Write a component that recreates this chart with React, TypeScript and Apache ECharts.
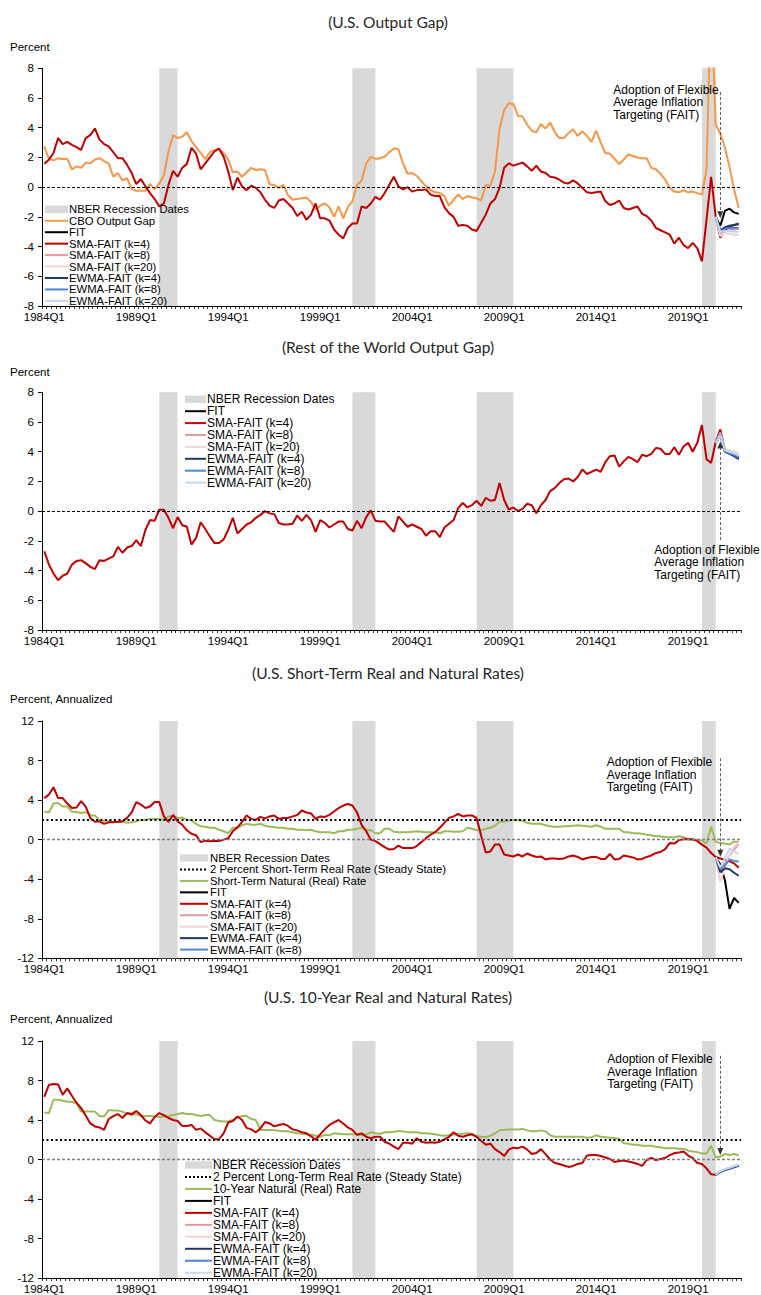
import React, { useEffect, useRef } from "react";
import * as echarts from "echarts";

// ---------------- categories ----------------
const FIRST_YEAR = 1984;
const LAST_YEAR = 2021;
const quarters: string[] = [];
for (let y = FIRST_YEAR; y <= LAST_YEAR; y++) for (let q = 1; q <= 4; q++) quarters.push(`${y}Q${q}`);

const recessionSpans: [string, string][] = [
  ["1990Q2", "1991Q2"],
  ["2000Q4", "2002Q1"],
  ["2007Q3", "2009Q3"],
  ["2019Q4", "2020Q3"],
];
const forecastStart = "2020Q3";
const faitAdoption = "2020Q4";
const steadyStateRate = 2;

const strategyNames = [
  "FIT",
  "SMA-FAIT (k=4)",
  "SMA-FAIT (k=8)",
  "SMA-FAIT (k=20)",
  "EWMA-FAIT (k=4)",
  "EWMA-FAIT (k=8)",
  "EWMA-FAIT (k=20)",
];

// ---------------- Panel 1: U.S. output gap ----------------
const usCboGap = [
  2.74, 1.9, 1.8, 1.95, 1.9, 1.9, 1.2, 1.4, 1.3, 1.65,
  1.6, 1.85, 1.95, 1.75, 1.6, 0.7, 0.95, 0.45, 0.6, -0.1,
  -0.25, -0.25, -0.25, 0.2, -0.15, 0.25, 0.8, 2.4, 3.5, 3.3,
  3.4, 3.7, 3.1, 2.7, 2.3, 1.9, 2.35, 2.5, 2.55, 2.3,
  1.85, 1.0, 1.05, 0.7, 1.0, 1.3, 1.15, 1.2, 1.15, 0.2,
  0.15, -0.05, 0.15, -0.55, -0.85, -0.8, -0.75, -0.7, -1.0, -1.5,
  -1.25, -1.1, -1.35, -2.0, -1.3, -2.1, -1.35, -0.95, 0.15, 0.45,
  1.6, 2.05, 1.9, 1.95, 2.05, 2.35, 2.6, 2.55, 1.6, 0.9,
  0.95, 0.75, 0.4, 0.05, -0.2, -0.35, -0.4, -0.6, -1.25, -0.85,
  -0.5, -0.8, -0.6, -0.7, -0.75, -0.9, 0.15, 0.1, 1.05, 3.95,
  5.2, 5.65, 5.6, 4.8, 4.75, 4.2, 3.8, 3.7, 4.25, 3.95,
  4.35, 3.7, 3.3, 3.3, 3.65, 3.9, 3.45, 3.75, 3.45, 3.05,
  3.8, 3.0, 2.3, 2.25, 1.9, 1.55, 1.85, 2.2, 2.1, 2.0,
  1.95, 1.95, 1.3, 1.2, 0.9, 0.5, -0.05, -0.3, -0.35, -0.2,
  -0.35, -0.3, -0.4, -0.5, 1.2, 13.0, 4.2, 3.6, 2.65, 1.35,
  -0.15, -1.4,
];
const usGapHistory = [
  1.57, 1.85, 2.3, 3.3, 2.9, 3.05, 2.85, 2.7, 2.5, 3.3,
  3.5, 3.95, 3.2, 2.9, 2.75, 2.35, 1.95, 1.95, 1.5, 0.95,
  0.2, 0.55, 0.05, -0.4, -0.8, -1.3, -1.1, 0.15, 1.1, 0.7,
  1.3, 1.55, 2.65, 2.25, 1.2, 1.6, 2.0, 2.4, 2.6, 2.05,
  1.05, -0.2, 0.65, 0.05, -0.2, 0.1, -0.05, -0.35, -0.85, -1.25,
  -1.4, -0.9, -0.8, -1.1, -1.4, -1.95, -1.65, -2.2, -1.85, -1.1,
  -2.1, -2.1, -2.25, -2.85, -3.2, -3.45, -2.75, -2.45, -2.45, -1.3,
  -1.4, -1.1, -0.65, -0.85, -0.4, 0.15, 0.7, 0.05, -0.15, 0,
  -0.3, -0.2, -0.2, -0.15, -0.5, -0.6, -0.6, -1.35, -1.75, -2.0,
  -2.6, -2.55, -2.6, -2.85, -2.95, -2.4, -1.85, -1.1, -0.8, -0.05,
  1.3, 1.6, 1.45, 1.55, 1.65, 1.4, 1.1, 1.45, 1.05, 0.95,
  0.7, 0.65, 0.5, 0.3, 0.25, 0.45, 0.25, -0.05, -0.35, -0.4,
  -0.35, -0.3, -0.95, -1.2, -1.1, -0.9, -1.4, -1.5, -1.4, -1.3,
  -1.8, -1.95, -2.25, -2.75, -2.9, -3.05, -3.2, -3.8, -3.4, -3.9,
  -4.1, -3.75, -4.1, -5.0, -2.2, 0.7,
];
const usGapFit = [-2.0, -2.6, -1.6, -1.45, -1.7, -1.8];
const usGapSma4 = [-2.0, -3.4, -2.9, -2.65, -2.55, -2.5];
const usGapSma8 = [-2.0, -3.2, -3.0, -2.9, -2.85, -2.8];
const usGapSma20 = [-2.0, -3.3, -3.1, -3.15, -3.2, -3.2];
const usGapEwma4 = [-2.0, -2.9, -2.7, -2.6, -2.55, -2.45];
const usGapEwma8 = [-2.0, -3.0, -2.8, -2.75, -2.75, -2.75];
const usGapEwma20 = [-2.0, -3.0, -2.95, -2.95, -3.0, -3.0];

// ---------------- Panel 2: rest of the world output gap ----------------
const rowGapHistory = [
  -2.7, -3.6, -4.2, -4.65, -4.35, -4.2, -3.6, -3.35, -3.3, -3.5,
  -3.75, -3.9, -3.3, -3.35, -3.2, -3.05, -2.4, -2.8, -2.45, -2.35,
  -1.95, -2.35, -1.25, -0.6, -0.65, 0.1, 0.1, -0.45, -1.15, -0.4,
  -0.95, -1.05, -2.25, -1.8, -0.75, -1.2, -1.7, -2.15, -2.15, -1.9,
  -1.25, -0.45, -1.5, -1.2, -0.9, -0.75, -0.45, -0.25, 0, -0.15,
  -0.2, -0.8, -0.9, -0.9, -0.85, -0.3, -0.65, -0.25, -0.6, -1.4,
  -0.6, -0.8, -1.1, -0.9, -0.7, -0.7, -1.2, -1.3, -0.65, -1.15,
  -0.4, 0.05, -0.65, -0.7, -0.7, -1.05, -1.4, -0.35, -0.7, -1.05,
  -0.9, -1.05, -1.2, -1.65, -1.35, -1.35, -1.75, -1.1, -0.85, -0.6,
  0.2, 0.55, 0.25, 0.4, 0.7, 0.35, 0.9, 0.7, 0.75, 1.9,
  0.75, 0.1, 0.25, 0, 0.15, 0.5, 0.4, -0.15, 0.4, 0.75,
  1.35, 1.55, 1.9, 2.15, 2.2, 2.0, 2.3, 2.8, 2.5, 2.65,
  2.8, 2.65, 3.3, 3.7, 3.75, 3.0, 3.35, 3.65, 3.5, 3.3,
  3.8, 3.7, 3.85, 4.25, 4.2, 3.85, 3.85, 4.3, 3.8, 4.35,
  4.6, 4.0, 4.6, 5.8, 3.5, 3.25,
];
const rowGapFit = [4.6, 5.1, 4.05, 3.9, 3.8, 3.6];
const rowGapSma4 = [4.65, 5.5, 4.1, 3.95, 3.85, 3.55];
const rowGapSma8 = [4.6, 5.3, 4.15, 4.0, 3.95, 3.75];
const rowGapSma20 = [4.6, 5.2, 4.2, 4.1, 4.05, 3.9];
const rowGapEwma4 = [4.6, 5.15, 4.0, 3.85, 3.7, 3.5];
const rowGapEwma8 = [4.6, 5.15, 4.05, 3.9, 3.8, 3.6];
const rowGapEwma20 = [4.6, 5.1, 4.1, 4.0, 3.9, 3.75];

// ---------------- Panel 3: U.S. short-term real and natural rates ----------------
const shortNatural = [
  2.85, 2.75, 3.65, 3.7, 3.35, 3.35, 2.85, 2.8, 2.7, 2.8,
  2.45, 2.45, 2.0, 1.9, 1.85, 1.8, 1.75, 1.8, 1.7, 1.75,
  1.85, 2.0, 2.0, 2.1, 2.1, 2.1, 2.0, 2.35, 2.4, 2.2,
  2.25, 2.0, 1.95, 1.6, 1.35, 1.3, 1.2, 1.2, 1.0, 0.85,
  0.65, 1.2, 1.2, 1.45, 1.6, 1.5, 1.5, 1.6, 1.4, 1.3,
  1.25, 1.2, 1.2, 1.1, 1.1, 1.0, 1.0, 0.95, 1.0, 0.85,
  0.75, 0.75, 0.75, 0.65, 0.85, 0.85, 1.0, 1.0, 1.1, 1.2,
  1.0, 0.95, 0.65, 0.65, 1.1, 1.1, 0.8, 0.75, 0.75, 0.75,
  0.8, 0.85, 0.8, 0.75, 0.75, 0.75, 0.65, 0.85, 0.85, 0.8,
  0.8, 0.85, 1.2, 1.1, 0.95, 0.95, 1.1, 1.2, 1.4, 1.8,
  1.8, 1.9, 2.0, 1.95, 1.9, 1.7, 1.6, 1.6, 1.6, 1.45,
  1.35, 1.3, 1.3, 1.35, 1.35, 1.4, 1.45, 1.4, 1.35, 1.3,
  1.45, 1.3, 1.1, 1.1, 1.1, 1.1, 0.75, 0.75, 0.65, 0.65,
  0.6, 0.5, 0.45, 0.35, 0.35, 0.25, 0.25, 0.25, 0.35, 0.25,
  0.05, -0.05, 0.0, -0.1, -0.4, 1.3, -0.2, -0.35, -0.4, -0.5,
  -0.2, -0.2,
];
const shortRealHistory = [
  4.2, 4.55, 5.3, 4.2, 4.2, 3.65, 3.2, 3.25, 3.9, 3.35,
  2.2, 1.8, 1.85, 1.6, 1.75, 1.75, 1.8, 1.85, 2.2, 2.75,
  3.8, 3.55, 3.2, 3.35, 3.8, 3.8, 2.35, 1.8, 2.5, 1.85,
  1.5, 0.95, 0.6, 0.45, -0.25, -0.1, -0.15, -0.1, -0.15, 0,
  0.15, 0.85, 1.25, 1.8, 2.45, 2.1, 2.0, 2.3, 2.15, 2.35,
  2.45, 2.1, 2.2, 2.2, 2.35, 2.5, 2.95, 2.75, 2.65, 2.1,
  2.35, 2.3, 2.5, 2.85, 3.2, 3.45, 3.6, 3.45, 2.75, 1.5,
  0.85, 0, -0.15, -0.45, -0.75, -1.0, -0.95, -0.6, -0.85, -0.85,
  -0.85, -0.65, -0.25, 0.15, 0.5, 0.75, 1.2, 1.7, 2.2, 2.35,
  2.6, 2.35, 2.45, 2.45, 2.2, 0.4, -1.3, -1.2, -0.5, -0.5,
  -1.5, -1.6, -1.7, -1.5, -1.7, -1.4, -1.6, -1.75, -1.7, -2.0,
  -1.9, -1.9, -1.95, -1.9, -1.7, -1.6, -1.75, -2.0, -1.85, -1.75,
  -1.75, -1.95, -1.95, -1.45, -2.0, -1.95, -1.6, -1.7, -1.8, -2.0,
  -1.95, -1.75, -1.6, -1.35, -1.25, -0.95, -0.35, -0.4, -0.05, 0.05,
  0.05, 0.05, -0.15, -0.5, -0.8, -1.35,
];
const shortFit = [-1.8, -2.5, -4.1, -7.0, -5.9, -6.4];
const shortSma4 = [-1.75, -1.9, -2.05, -2.2, -2.4, -2.85];
const shortSma8 = [-1.8, -3.1, -2.4, -1.6, -1.0, -0.4];
const shortSma20 = [-1.8, -4.3, -2.8, -1.5, -0.7, -0.3];
const shortEwma4 = [-1.8, -3.3, -2.9, -3.0, -3.35, -3.65];
const shortEwma8 = [-1.8, -2.9, -2.6, -2.0, -2.15, -2.2];
const shortEwma20 = [-1.8, -2.8, -1.9, -0.9, -1.2, -1.45];

// ---------------- Panel 4: U.S. 10-year real and natural rates ----------------
const longNatural = [
  4.75, 4.7, 6.05, 6.05, 5.95, 5.85, 5.85, 5.7, 4.85, 4.85,
  4.85, 4.85, 4.4, 4.35, 5.0, 4.95, 4.95, 4.85, 4.6, 4.5,
  4.6, 4.4, 4.4, 4.4, 4.35, 4.3, 4.35, 4.4, 4.5, 4.6,
  4.7, 4.6, 4.6, 4.5, 4.4, 4.5, 4.5, 4.0, 3.9, 3.85,
  3.85, 4.0, 4.25, 4.4, 4.4, 4.1, 4.0, 3.0, 3.0, 3.0,
  2.95, 2.9, 2.85, 2.85, 2.75, 2.65, 2.6, 2.55, 2.5, 2.4,
  2.3, 2.5, 2.45, 2.65, 2.6, 2.55, 2.55, 2.55, 2.55, 2.45,
  2.55, 2.75, 2.65, 2.6, 2.75, 2.75, 2.8, 2.85, 2.85, 2.75,
  2.75, 2.75, 2.65, 2.65, 2.6, 2.55, 2.45, 2.4, 2.45, 2.5,
  2.6, 2.6, 2.65, 2.6, 2.4, 2.3, 2.25, 2.4, 2.65, 2.95,
  3.0, 3.05, 3.05, 3.05, 3.1, 2.95, 2.85, 2.85, 2.95, 2.85,
  2.45, 2.3, 2.3, 2.3, 2.3, 2.3, 2.3, 2.3, 2.2, 2.25,
  2.45, 2.3, 2.25, 2.2, 2.15, 2.1, 1.65, 1.6, 1.5, 1.5,
  1.4, 1.4, 1.4, 1.3, 1.25, 1.15, 1.15, 1.15, 1.1, 1.1,
  0.9, 0.8, 0.75, 0.6, 0.6, 1.4, 0.2, 0.3, 0.55, 0.45,
  0.55, 0.4,
];
const longRealHistory = [
  6.35, 7.55, 7.65, 7.6, 6.55, 7.2, 6.45, 5.75, 5.2, 4.45,
  3.65, 3.35, 3.25, 3.0, 4.1, 4.4, 4.6, 4.2, 4.7, 4.6,
  4.9, 4.5, 3.95, 3.65, 4.3, 4.7, 4.5, 4.2, 4.0, 3.9,
  3.4, 3.4, 3.5, 3.0, 3.15, 2.75, 2.4, 2.05, 2.05, 2.65,
  3.75, 3.9, 4.35, 4.0, 3.2, 3.05, 2.75, 3.15, 3.8, 3.65,
  3.35, 3.5, 3.6, 3.4, 3.05, 2.95, 2.75, 2.65, 2.35, 2.0,
  2.55, 3.05, 3.5, 3.75, 4.0, 3.65, 3.25, 3.0, 2.5, 2.65,
  2.3, 2.15, 2.3, 2.3, 1.8, 1.6, 1.3, 1.05, 1.7, 1.7,
  1.6, 2.15, 1.8, 1.7, 1.75, 1.7, 1.8, 2.05, 2.3, 2.75,
  2.4, 2.3, 2.45, 2.55, 2.3, 1.9, 1.5, 1.6, 1.05, 0.75,
  0.35, 1.0, 1.2, 1.15, 1.3, 1.0, 0.55, 0.65, 1.05, 0.55,
  0, -0.35, -0.45, -0.6, -0.75, -0.65, -0.45, -0.35, 0.4, 0.45,
  0.45, 0.35, 0.2, 0.05, -0.25, -0.15, -0.1, -0.2, -0.3, -0.45,
  -0.65, -0.05, 0.15, -0.05, 0.05, 0.15, 0.45, 0.65, 0.7, 0.8,
  0.4, 0.15, -0.35, -0.45, -0.9, -1.5,
];
const longFit = [-1.55, -1.25, -1.05, -0.92, -0.75, -0.6];
const longSma4 = [-1.55, -1.24, -1.02, -0.9, -0.72, -0.58];
const longSma8 = [-1.55, -1.22, -1.0, -0.88, -0.7, -0.56];
const longSma20 = [-1.55, -1.2, -0.98, -0.86, -0.68, -0.54];
const longEwma4 = [-1.55, -1.28, -1.06, -0.95, -0.78, -0.62];
const longEwma8 = [-1.55, -1.24, -1.01, -0.9, -0.72, -0.58];
const longEwma20 = [-1.55, -1.18, -0.96, -0.84, -0.66, -0.52];

// ---------------- styling ----------------
const FONT = '"Liberation Sans", Arial, sans-serif';
const TITLE_FONT = 'Lato, "Open Sans", sans-serif';
const strategyColors = ["#000000", "#c00000", "#e39a9a", "#f3d3d3", "#1f3864", "#4a88d6", "#c3d8f0"];
const recessionColor = "#d9d9d9";

type Legend = { x: number; w: number; textX: number; y0: number; step: number; fontSize: number };
type Panel = {
  title: string;
  titleY: number;
  unit: string;
  unitY: number;
  top: number;
  height: number;
  min: number;
  max: number;
  interval: number;
  zeroColor: string;
  zeroWidth: number;
  main: { name: string; data: number[]; color: string } | null;
  steady: string | null;
  history: number[];
  forecasts: number[][];
  legend: Legend;
  legendStrategies: number;
  note: { x: number; y: number; from: number; to: number };
};

const panels: Panel[] = [
  {
    title: "(U.S. Output Gap)", titleY: 21.5, unit: "Percent", unitY: 47.3,
    top: 68.3, height: 237.7, min: -8, max: 8, interval: 2, zeroColor: "#000", zeroWidth: 1,
    main: { name: "CBO Output Gap", data: usCboGap, color: "#f79646" }, steady: null,
    history: usGapHistory,
    forecasts: [usGapFit, usGapSma4, usGapSma8, usGapSma20, usGapEwma4, usGapEwma8, usGapEwma20],
    legend: { x: 45, w: 23, textX: 69, y0: 209.3, step: 11.45, fontSize: 11.3 }, legendStrategies: 7,
    note: { x: 613.3, y: 90, from: 6.4, to: -1.86 },
  },
  {
    title: "(Rest of the World Output Gap)", titleY: 346.7, unit: "Percent", unitY: 371.7,
    top: 392.3, height: 237.7, min: -8, max: 8, interval: 2, zeroColor: "#000", zeroWidth: 1,
    main: null, steady: null,
    history: rowGapHistory,
    forecasts: [rowGapFit, rowGapSma4, rowGapSma8, rowGapSma20, rowGapEwma4, rowGapEwma8, rowGapEwma20],
    legend: { x: 185, w: 21, textX: 207, y0: 399.3, step: 11.9, fontSize: 12 }, legendStrategies: 7,
    note: { x: 654.3, y: 550, from: -1.94, to: 4.46 },
  },
  {
    title: "(U.S. Short-Term Real and Natural Rates)", titleY: 672.7, unit: "Percent, Annualized", unitY: 699.3,
    top: 721, height: 237.3, min: -12, max: 12, interval: 4, zeroColor: "#7f7f7f", zeroWidth: 1.3,
    main: { name: "Short-Term Natural (Real) Rate", data: shortNatural, color: "#9bbb59" },
    steady: "2 Percent Short-Term Real Rate (Steady State)",
    history: shortRealHistory,
    forecasts: [shortFit, shortSma4, shortSma8, shortSma20, shortEwma4, shortEwma8, shortEwma20],
    legend: { x: 180, w: 28, textX: 210, y0: 858, step: 11.45, fontSize: 11.3 }, legendStrategies: 6,
    note: { x: 606.7, y: 762.3, from: 8.23, to: -1.38 },
  },
  {
    title: "(U.S. 10-Year Real and Natural Rates)", titleY: 997.3, unit: "Percent, Annualized", unitY: 1019.3,
    top: 1041, height: 237.3, min: -12, max: 12, interval: 4, zeroColor: "#7f7f7f", zeroWidth: 1.3,
    main: { name: "10-Year Natural (Real) Rate", data: longNatural, color: "#9bbb59" },
    steady: "2 Percent Long-Term Real Rate (Steady State)",
    history: longRealHistory,
    forecasts: [longFit, longSma4, longSma8, longSma20, longEwma4, longEwma8, longEwma20],
    legend: { x: 185, w: 27, textX: 213, y0: 1165, step: 11.97, fontSize: 12 }, legendStrategies: 7,
    note: { x: 607.3, y: 1059.3, from: 10.5, to: 0.81 },
  },
];

const fStart = quarters.indexOf(forecastStart);
const forecastOnly = (f: number[]) => quarters.map((_, i) => (i < fStart ? null : f[i - fStart] ?? null));
const historyThen = (h: number[], f: number[]) =>
  quarters.map((_, i) => (i < h.length ? h[i] : f[i - fStart] ?? null));

function buildOption() {
  const grid: any[] = [];
  const xAxis: any[] = [];
  const yAxis: any[] = [];
  const series: any[] = [];
  const graphic: any[] = [];

  panels.forEach((p, k) => {
    grid.push({ left: 42, width: 699, top: p.top, height: p.height });
    xAxis.push({
      type: "category", gridIndex: k, data: quarters, boundaryGap: true,
      axisLine: { show: true, onZero: false, lineStyle: { color: "#000", width: 1 } },
      axisTick: { show: true, interval: 0, length: 3, lineStyle: { color: "#000", width: 0.8 } },
      axisLabel: { interval: 19, color: "#000", fontSize: 11.5, fontFamily: FONT, margin: 5 },
      splitLine: { show: false },
    });
    yAxis.push({
      type: "value", gridIndex: k, min: p.min, max: p.max, interval: p.interval,
      axisLine: { show: true, lineStyle: { color: "#000", width: 1 } },
      axisTick: { show: true, length: 4, lineStyle: { color: "#000" } },
      axisLabel: { color: "#000", fontSize: 11.5, fontFamily: FONT, margin: 8 },
      splitLine: { show: false },
    });

    const base = { xAxisIndex: k, yAxisIndex: k, type: "line", symbol: "none", silent: true };
    // recession shading
    series.push({
      ...base, name: "NBER Recession Dates", data: [], z: 1,
      markArea: {
        silent: true, itemStyle: { color: recessionColor },
        data: recessionSpans.map(([a, b]) => [{ xAxis: a }, { xAxis: b }]),
      },
    });
    // reference lines
    const refLines: any[] = [
      { yAxis: 0, lineStyle: { type: [3, 2], color: p.zeroColor, width: p.zeroWidth } },
    ];
    if (p.steady) refLines.push({ yAxis: steadyStateRate, lineStyle: { type: [2, 2.5], color: "#000", width: 2 } });
    series.push({
      ...base, name: `ref-${k}`, data: [], z: 2,
      markLine: { silent: true, symbol: ["none", "none"], label: { show: false }, data: refLines },
    });
    if (p.main) {
      series.push({
        ...base, name: p.main.name, data: p.main.data, z: 2,
        lineStyle: { color: p.main.color, width: 2 }, itemStyle: { color: p.main.color },
      });
    }
    p.forecasts.forEach((f, s) => {
      series.push({
        ...base, name: strategyNames[s], z: 2,
        data: s === 1 ? historyThen(p.history, f) : forecastOnly(f),
        lineStyle: { color: strategyColors[s], width: 2 }, itemStyle: { color: strategyColors[s] },
      });
    });
    // FAIT arrow
    series.push({
      ...base, name: `fait-${k}`, data: [], z: 3,
      markLine: {
        silent: true, symbol: ["none", "triangle"], symbolSize: [6, 7], label: { show: false },
        lineStyle: { type: [3, 2], color: "#333", width: 0.8 },
        data: [[{ coord: [faitAdoption, p.note.from] }, { coord: [faitAdoption, p.note.to] }]],
      },
    });

    // texts
    graphic.push({
      type: "text", x: 388, y: p.titleY, z: 100, silent: true,
      style: { text: p.title, fill: "#262626", fontSize: 15.5, fontFamily: TITLE_FONT, align: "center", verticalAlign: "middle" },
    });
    graphic.push({
      type: "text", x: 10, y: p.unitY, z: 100, silent: true,
      style: { text: p.unit, fill: "#000", fontSize: 11.5, fontFamily: FONT, verticalAlign: "middle" },
    });
    graphic.push({
      type: "text", x: p.note.x, y: p.note.y - 6.2, z: 100, silent: true,
      style: {
        text: "Adoption of Flexible\nAverage Inflation\nTargeting (FAIT)",
        fill: "#000", fontSize: 12, lineHeight: 12.4, fontFamily: FONT, verticalAlign: "top",
      },
    });

    // legend
    const entries: { name: string; kind: string; color: string }[] = [
      { name: "NBER Recession Dates", kind: "rect", color: recessionColor },
    ];
    if (p.steady) entries.push({ name: p.steady, kind: "dotted", color: "#000" });
    if (p.main) entries.push({ name: p.main.name, kind: "line", color: p.main.color });
    for (let s = 0; s < p.legendStrategies; s++) entries.push({ name: strategyNames[s], kind: "line", color: strategyColors[s] });
    const L = p.legend;
    entries.forEach((e, r) => {
      const cy = L.y0 + r * L.step;
      if (e.kind === "rect") {
        graphic.push({ type: "rect", z: 100, silent: true, shape: { x: L.x, y: cy - 3.7, width: L.w, height: 7.4 }, style: { fill: e.color } });
      } else {
        graphic.push({
          type: "line", z: 100, silent: true,
          shape: { x1: L.x, y1: cy, x2: L.x + L.w, y2: cy },
          style: { stroke: e.color, lineWidth: 2, lineDash: e.kind === "dotted" ? [2, 2] : null },
        });
      }
      graphic.push({
        type: "text", x: L.textX, y: cy, z: 100, silent: true,
        style: { text: e.name, fill: "#000", fontSize: L.fontSize, fontFamily: FONT, verticalAlign: "middle" },
      });
    });
  });

  return { animation: false, backgroundColor: "#ffffff", grid, xAxis, yAxis, series, graphic };
}

export default function App() {
  const ref = useRef<HTMLDivElement>(null);
  useEffect(() => {
    document.body.style.margin = "0";
    const chart = echarts.init(ref.current!, undefined, { renderer: "svg" });
    chart.setOption(buildOption() as any);
    return () => chart.dispose();
  }, []);
  return <div ref={ref} style={{ width: 761, height: 1295 }} />;
}
